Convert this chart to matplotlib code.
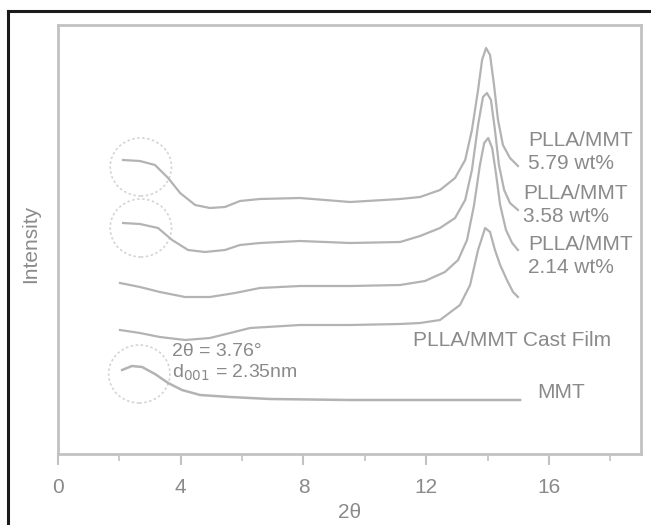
import matplotlib
matplotlib.use("Agg")
import matplotlib.pyplot as plt
from matplotlib.patches import Ellipse
from matplotlib.lines import Line2D

plt.rcParams['font.family'] = ['Liberation Sans', 'DejaVu Sans']

# ---- data (2-theta, intensity in arbitrary units) ----
x_579 = [2.12, 2.67, 3.16, 3.59, 3.98, 4.47, 4.95, 5.44, 5.93, 6.58, 7.89, 9.52, 11.15, 11.80,
         12.45, 12.94, 13.27, 13.49, 13.69, 13.82, 13.95, 14.08, 14.21, 14.34, 14.50, 14.73, 14.99]
y_579 = [293, 292, 288, 275, 260, 248, 245, 246, 252, 254, 255, 251, 254, 256,
         263, 275, 293, 323, 363, 393, 405, 398, 368, 333, 308, 295, 287]

x_358 = [2.12, 2.67, 3.26, 3.72, 4.24, 4.79, 5.44, 5.93, 6.58, 7.89, 9.52, 11.15, 11.80,
         12.45, 12.94, 13.27, 13.49, 13.69, 13.85, 13.98, 14.11, 14.24, 14.37, 14.54, 14.73, 14.99]
y_358 = [230, 229, 225, 213, 203, 201, 203, 208, 210, 212, 210, 211, 217,
         225, 235, 253, 283, 328, 356, 360, 353, 323, 288, 263, 250, 243]

x_214 = [2.02, 2.67, 3.32, 4.14, 4.95, 5.77, 6.58, 7.89, 9.52, 11.15, 11.96, 12.61,
         13.04, 13.33, 13.56, 13.75, 13.89, 14.02, 14.15, 14.28, 14.41, 14.60, 14.80, 14.99]
y_214 = [170, 166, 161, 156, 156, 160, 165, 167, 167, 168, 172, 181,
         193, 213, 248, 288, 310, 315, 305, 278, 248, 223, 210, 203]

x_cast = [2.02, 2.67, 3.32, 4.14, 4.95, 5.61, 6.26, 7.89, 9.52, 11.15, 11.80, 12.45,
          13.10, 13.43, 13.69, 13.92, 14.08, 14.24, 14.41, 14.63, 14.83, 14.99]
y_cast = [123, 120, 116, 113, 115, 120, 125, 128, 128, 129, 130, 133,
          148, 168, 203, 225, 221, 203, 188, 173, 161, 156]

x_mmt = [2.09, 2.41, 2.74, 3.16, 3.59, 4.04, 4.63, 5.61, 6.91, 9.52, 12.78, 15.06]
y_mmt = [83, 87, 86, 79, 70, 63, 58, 56, 54, 53, 53, 53]

series_labels = ["PLLA/MMT\n5.79 wt%", "PLLA/MMT\n3.58 wt%", "PLLA/MMT\n2.14 wt%",
                 "PLLA/MMT Cast Film", "MMT"]
label_pos = [(15.32, 301), (15.16, 248), (15.32, 197), (11.57, 113), (15.61, 61)]

xticks = [0, 4, 8, 12, 16]
xtick_labels = ["0", "4", "8", "12", "16"]

circle_centers = [(2.7, 286), (2.7, 225), (2.65, 79)]

annot_lines = ["2θ = 3.76°", "d$_{001}$ = 2.35nm"]
annot_pos = [(3.72, 101), (3.72, 80)]

# ---- style ----
line_col = "#b3b3b3"
text_col = "#8a8a8a"
spine_col = "#c2c2c2"
fs = 15

fig = plt.figure(figsize=(6.51, 5.25), dpi=100)
fig.patch.set_facecolor("white")
ax = fig.add_axes([58 / 651, (525 - 454) / 525, (641 - 58) / 651, (454 - 25) / 525])

for xs, ys in [(x_579, y_579), (x_358, y_358), (x_214, y_214), (x_cast, y_cast)]:
    ax.plot(xs, ys, color=line_col, lw=1.6, solid_joinstyle="round")
ax.plot(x_mmt, y_mmt, color=line_col, lw=1.8, solid_joinstyle="round")

for (cx, cy) in circle_centers:
    ax.add_patch(Ellipse((cx, cy), 2.0, 58, fill=False, ec="#d4d4d4", lw=1.2, ls=(0, (1.5, 1.5))))

for lab, (lx, ly) in zip(series_labels, label_pos):
    ax.text(lx, ly, lab, color=text_col, fontsize=fs, ha="left", va="center", linespacing=1.3)

for t, (tx, ty) in zip(annot_lines, annot_pos):
    ax.text(tx, ty, t, color=text_col, fontsize=14, ha="left", va="center")

ax.set_xlim(0, 19)
ax.set_ylim(-1, 428)
ax.set_xticks(xticks)
ax.set_xticklabels(xtick_labels)
ax.set_xticks([2, 6, 10, 14, 18], minor=True)
ax.set_yticks([])
ax.tick_params(axis="x", which="major", direction="out", length=8, width=1.5,
               color=spine_col, labelcolor=text_col, labelsize=fs, pad=9)
ax.tick_params(axis="x", which="minor", direction="out", length=5, width=1.2, color=spine_col)
for s in ax.spines.values():
    s.set_color(spine_col)
    s.set_linewidth(2)

ax.set_xlabel("2θ", color=text_col, fontsize=fs)
ax.xaxis.set_label_coords(0.5, -0.115)
ax.set_ylabel("Intensity", color=text_col, fontsize=fs)
ax.yaxis.set_label_coords(-0.03, 0.49)

# outer black frame (left and top edges)
fig.add_artist(Line2D([8 / 651, 8 / 651], [0, 1 - 11 / 525], transform=fig.transFigure,
                      color="#1a1a1a", lw=2.2))
fig.add_artist(Line2D([8 / 651, 1], [1 - 11 / 525, 1 - 11 / 525], transform=fig.transFigure,
                      color="#1a1a1a", lw=2.2))

fig.savefig("out.png", dpi=100, facecolor="white")
